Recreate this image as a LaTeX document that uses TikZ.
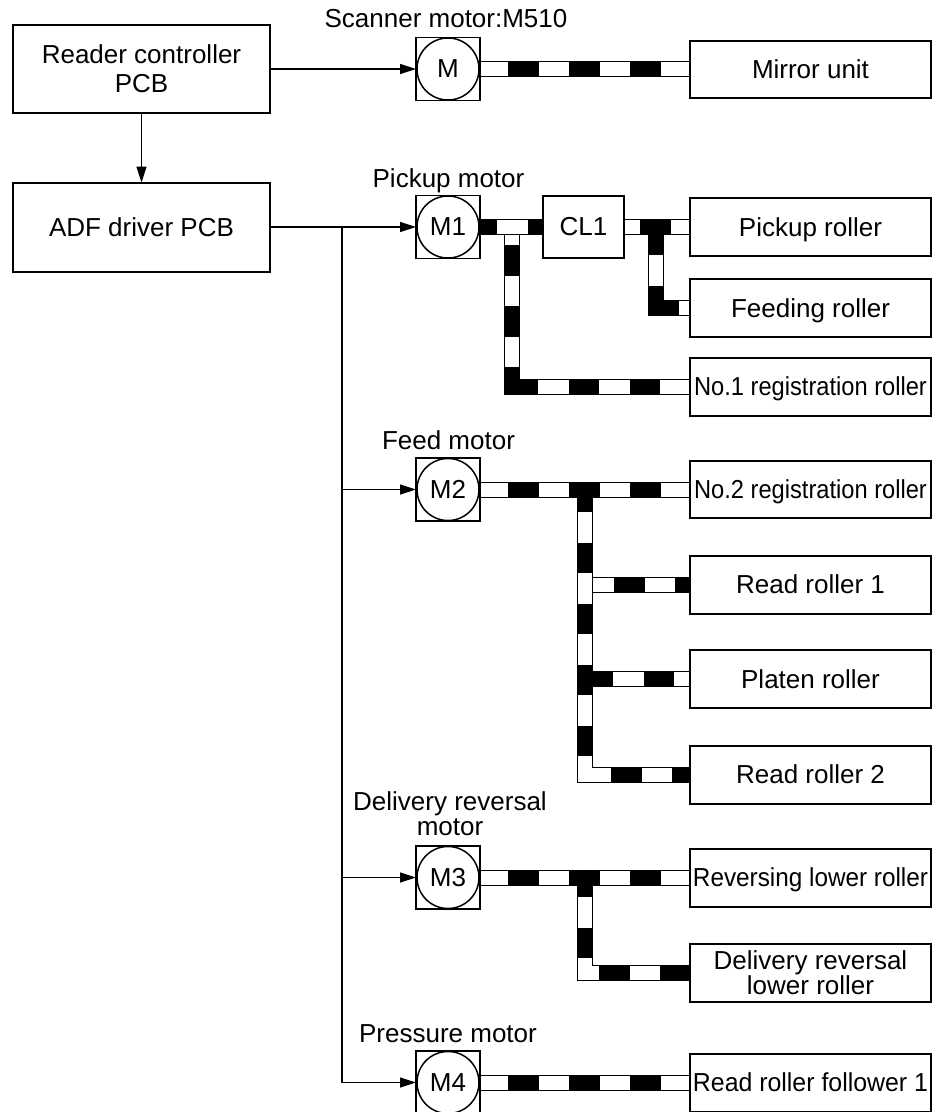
\documentclass[tikz,border=0pt]{standalone}
\usepackage{fontspec}
\usepackage{graphicx}
\setmainfont{Liberation Sans}
\usetikzlibrary{arrows.meta,backgrounds}
\begin{document}
\begin{tikzpicture}[x=1pt,y=-1pt,
  every node/.style={inner sep=0pt, outer sep=0pt, font=\fontsize{26}{29}\selectfont},
  pcb/.style={draw, line width=2pt, minimum width=257pt, minimum height=88pt, align=center},
  roller/.style={draw, line width=2pt, minimum width=241pt, minimum height=58pt, align=center, text depth=0pt},
  clutch/.style={draw, line width=1.8pt, minimum width=81pt, minimum height=62pt},
  motor/.style={draw, line width=1.6pt, minimum width=64pt, minimum height=63pt,
    path picture={\draw[line width=1.5pt] (path picture bounding box.center) circle[radius=31pt];}},
  caption/.style={anchor=base, align=center, font=\fontsize{26}{25}\selectfont},
  conn/.style={line width=1.2pt},
  arr/.style={conn, -{Triangle[length=16pt,width=10pt]}},
  shaftbase/.style={line width=16pt, draw=black, line cap=butt, line join=miter,
    postaction={draw=white, line width=14pt}},
  stripes/.style={line width=14pt, draw=black, line cap=butt, dash pattern=on 30.5pt off 30.5pt}]
\useasboundingbox (0,0) rectangle (933,1112);

% controllers
\node[pcb] (reader) at (141.5,69) {Reader controller\\PCB};
\node[pcb, minimum height=89pt] (adf) at (141.5,227) {ADF driver PCB};

% motors
\node[motor] (M0) at (448,69) {M};
\node[motor] (M1) at (448,227) {M1};
\node[motor] (M2) at (448,489.5) {M2};
\node[motor] (M3) at (448,877.5) {M3};
\node[motor] (M4) at (448,1082.5) {M4};
\node[clutch] (cl1) at (583.5,227) {CL1};

% captions
\node[caption] (c0) at (446,27) {Scanner motor:M510};
\node[caption] (c1) at (448.5,187) {Pickup motor};
\node[caption] (c2) at (448.5,449) {Feed motor};
\node[caption] (c3) at (450,835) {Delivery reversal\\motor};
\node[caption] (c4) at (448,1042) {Pressure motor};

% driven parts
\node[roller, minimum height=57pt] (mirror) at (810.5,69) {Mirror unit};
\node[roller] (pickup) at (810.5,227) {Pickup roller};
\node[roller] (feeding) at (810.5,308) {Feeding roller};
\node[roller] (reg1) at (810.5,386.5) {\scalebox{0.91}[1]{No.1 registration roller}};
\node[roller, minimum height=57pt] (reg2) at (810.5,489.5) {\scalebox{0.91}[1]{No.2 registration roller}};
\node[roller] (read1) at (810.5,584.5) {Read roller 1};
\node[roller] (platen) at (810.5,679) {Platen roller};
\node[roller] (read2) at (810.5,774.5) {Read roller 2};
\node[roller] (revlow) at (810.5,877.5) {\scalebox{0.935}[1]{Reversing lower roller}};
\node[roller, font=\fontsize{26}{24}\selectfont] (delrev) at (810.5,972.5) {Delivery reversal\\lower roller};
\node[roller] (follower) at (810.5,1082.5) {\scalebox{0.957}[1]{Read roller follower 1}};

% junction points on shafts
\coordinate (j1) at (511.5,227);
\coordinate (j2) at (655.5,227);
\coordinate (t2) at (584.5,489.5);
\coordinate (t2a) at (584.5,584.5);
\coordinate (t2b) at (584.5,679);
\coordinate (t3) at (584.5,877.5);

\begin{pgfonlayer}{background}
  % bases: branches first, main shafts last
  \draw[shaftbase] (j1) |- (reg1.west);
  \draw[shaftbase] (j2) |- (feeding.west);
  \draw[shaftbase] (t2a) -- (read1.west);
  \draw[shaftbase] (t2b) -- (platen.west);
  \draw[shaftbase] (t2) |- (read2.west);
  \draw[shaftbase] (t3) |- (delrev.west);
  \draw[shaftbase] (M0.east) -- (mirror.west);
  \draw[shaftbase] (M1.east) -- (cl1.west);
  \draw[shaftbase] (cl1.east) -- (pickup.west);
  \draw[shaftbase] (M2.east) -- (reg2.west);
  \draw[shaftbase] (M3.east) -- (revlow.west);
  \draw[shaftbase] (M4.east) -- (follower.west);
  % black stripes
  \draw[stripes] (508,69) -- (690,69);
  \draw[stripes, dash phase=13.5pt] (480,227) -- (543,227);
  \draw[stripes] (640,227) -- (690,227);
  \draw[stripes] (511.5,245) -- (511.5,393.5);
  \draw[stripes] (507.5,386.5) -- (690,386.5);
  \draw[stripes] (655.5,224.5) -- (655.5,315);
  \draw[stripes] (648.5,308) -- (690,308);
  \draw[stripes] (508,489.5) -- (690,489.5);
  \draw[stripes] (584.5,481.5) -- (584.5,781.5);
  \draw[stripes] (614,584.5) -- (690,584.5);
  \draw[stripes] (582.5,679) -- (690,679);
  \draw[stripes] (611,774.5) -- (690,774.5);
  \draw[stripes] (508,877.5) -- (690,877.5);
  \draw[stripes, dash phase=3pt] (584.5,869.5) -- (584.5,979);
  \draw[stripes] (599,972.5) -- (690,972.5);
  \draw[stripes] (508,1082.5) -- (690,1082.5);
\end{pgfonlayer}

% signal connectors
\draw[arr] (reader.south) -- (adf.north);
\draw[arr] (reader.east) -- (M0.west);
\draw[arr] (adf.east) -- (M1.west);
\coordinate (jd) at (342,227);
\draw[arr] (jd) |- (M2.west);
\draw[arr] (jd) |- (M3.west);
\draw[arr] (jd) |- (M4.west);
\end{tikzpicture}
\end{document}
